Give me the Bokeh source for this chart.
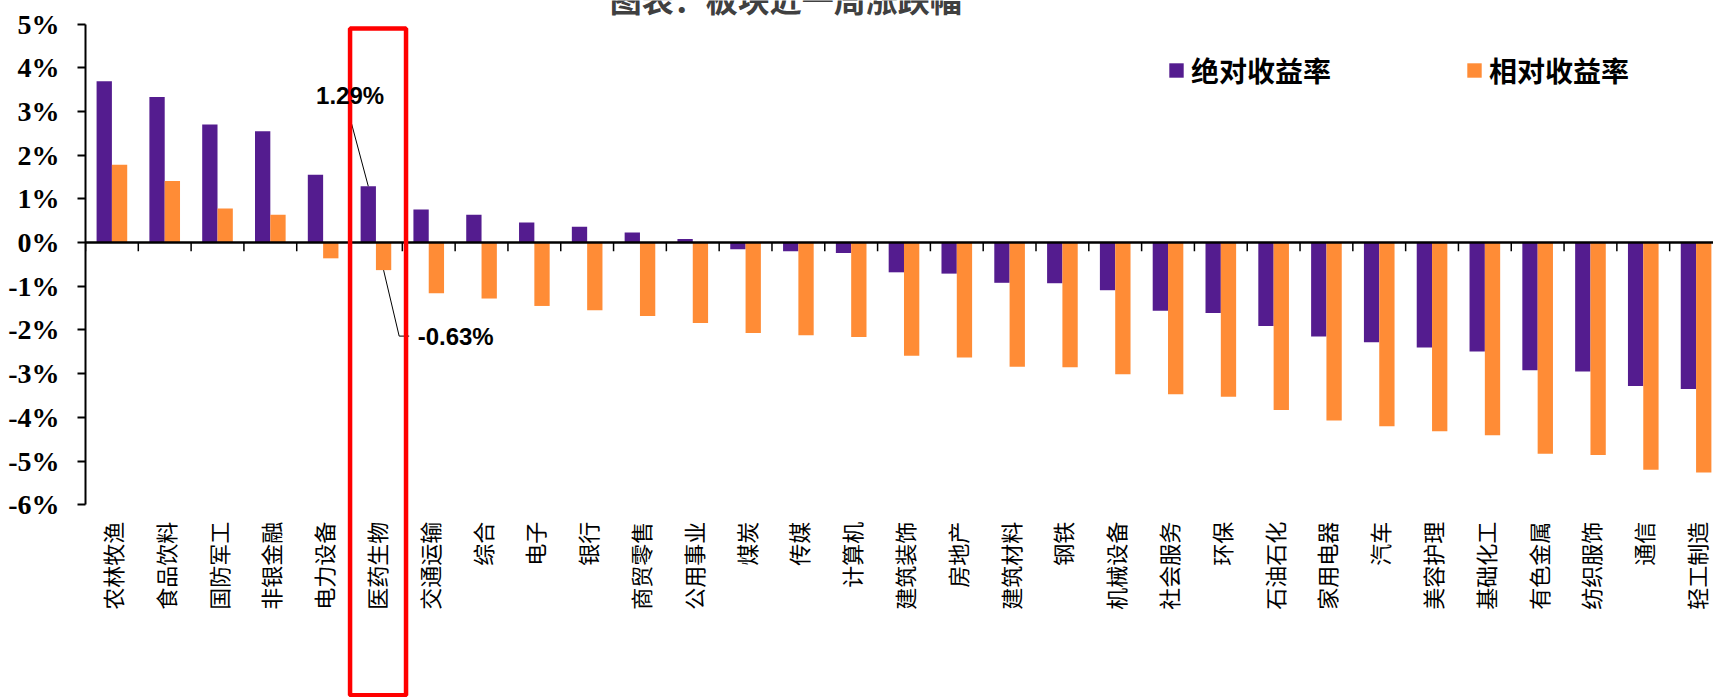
from bokeh.plotting import figure
from bokeh.models import (Range1d, LinearAxis, FixedTicker, PrintfTickFormatter,
                          Span, BoxAnnotation, Label, Legend, LegendItem)
from bokeh.core.properties import value
from bokeh.embed import file_html
from bokeh.resources import INLINE
from math import pi

categories = ["农林牧渔", "食品饮料", "国防军工", "非银金融", "电力设备", "医药生物",
              "交通运输", "综合", "电子", "银行", "商贸零售", "公用事业", "煤炭", "传媒",
              "计算机", "建筑装饰", "房地产", "建筑材料", "钢铁", "机械设备", "社会服务",
              "环保", "石油石化", "家用电器", "汽车", "美容护理", "基础化工", "有色金属",
              "纺织服饰", "通信", "轻工制造"]
abs_ret = [3.69, 3.33, 2.70, 2.55, 1.55, 1.29, 0.76, 0.64, 0.46, 0.36, 0.23, 0.08,
           -0.15, -0.20, -0.24, -0.68, -0.71, -0.92, -0.93, -1.09, -1.56, -1.61,
           -1.91, -2.15, -2.28, -2.40, -2.49, -2.92, -2.95, -3.28, -3.35]
rel_ret = [1.78, 1.41, 0.78, 0.64, -0.36, -0.63, -1.16, -1.28, -1.45, -1.55, -1.68,
           -1.84, -2.07, -2.12, -2.16, -2.59, -2.63, -2.84, -2.85, -3.01, -3.47,
           -3.53, -3.83, -4.07, -4.20, -4.32, -4.41, -4.83, -4.86, -5.20, -5.26]
y_ticks = list(range(-6, 6))
series_names = ["绝对收益率", "相对收益率"]
title_text = "图表：板块近一周涨跌幅"
highlight = "医药生物"

PURPLE = "#541c8f"
ORANGE = "#ff8c36"

n = len(categories)
y_lo, y_hi = y_ticks[0], y_ticks[-1]
# frame covers the full canvas height; axis drawn only within [y_lo, y_hi]
p = figure(width=1713, height=697, x_range=Range1d(0, 30.83), y_range=Range1d(-10.41, 5.54),
           output_backend="svg", toolbar_location=None,
           x_axis_type=None, y_axis_type=None,
           min_border_left=85, min_border_right=0, min_border_top=0, min_border_bottom=0,
           outline_line_color=None, background_fill_color="white")

x_abs = [i + 0.355 for i in range(n)]
x_rel = [i + 0.645 for i in range(n)]
r1 = p.vbar(x=x_abs, top=abs_ret, bottom=0, width=0.29, fill_color=PURPLE, line_color=None)
r2 = p.vbar(x=x_rel, top=rel_ret, bottom=0, width=0.29, fill_color=ORANGE, line_color=None)

# zero line and category boundary ticks
p.add_layout(Span(location=0, dimension="width", line_color="black", line_width=2.5))
p.segment(x0=list(range(n)), y0=[0] * n, x1=list(range(n)), y1=[-0.2] * n,
          line_color="black", line_width=1.5)

# y axis
yax = LinearAxis(ticker=FixedTicker(ticks=y_ticks), formatter=PrintfTickFormatter(format="%d%%"),
                 bounds=(y_lo, y_hi))
yax.axis_line_color = "black"
yax.axis_line_width = 2
yax.major_tick_line_color = "black"
yax.major_tick_line_width = 2
yax.major_tick_out = 8
yax.major_tick_in = 0
yax.minor_tick_line_color = None
yax.major_label_standoff = 18
yax.major_label_text_font = "Liberation Serif"
yax.major_label_text_font_style = "bold"
yax.major_label_text_font_size = "28px"
yax.major_label_text_color = "black"
p.add_layout(yax, "left")

# category labels (placed below the value axis bottom, reading bottom-to-top)
p.text(x=[i + 0.5 for i in range(n)], y=[y_lo - 0.39] * n, text=categories, angle=pi / 2,
       text_align="right", text_baseline="middle", text_font=value("Noto Sans CJK SC"),
       text_font_size="22px", text_color="black")

# highlight box and annotations
hi = categories.index(highlight)
p.add_layout(BoxAnnotation(left=hi + 0.01, right=hi + 1.07, top=4.9, bottom=-10.36,
                           fill_alpha=0, line_color="#ff0000", line_alpha=1.0, line_width=4.5))
p.line([hi + 0.01, hi + 0.355], [2.85, abs_ret[hi]], line_color="black", line_width=1)
p.line([hi + 0.645, hi + 0.94, hi + 1.13], [rel_ret[hi], -2.14, -2.14], line_color="black", line_width=1)
p.add_layout(Label(x=hi + 0.01, y=3.36, text=f"{abs_ret[hi]:.2f}%", text_align="center",
                   text_baseline="middle", text_font="Liberation Sans", text_font_style="bold",
                   text_font_size="24px", text_color="black"))
p.add_layout(Label(x=hi + 1.29, y=-2.15, text=f"{rel_ret[hi]:.2f}%", text_align="left",
                   text_baseline="middle", text_font="Liberation Sans", text_font_style="bold",
                   text_font_size="24px", text_color="black"))

# title (partially cut at the top edge, as in the reference)
p.add_layout(Label(x=13.26, y=5.59, text=title_text, text_align="center", text_baseline="alphabetic",
                   text_font="Noto Sans CJK SC", text_font_style="bold", text_font_size="32px",
                   text_color="#404040"))

legend = Legend(items=[LegendItem(label=series_names[0], renderers=[r1]),
                       LegendItem(label=series_names[1], renderers=[r2])],
                orientation="horizontal", location=(1082, 607),
                glyph_width=18, glyph_height=18, label_standoff=6, spacing=134,
                padding=0, margin=0, border_line_color=None, background_fill_alpha=0,
                label_text_font="Noto Sans CJK SC", label_text_font_style="bold",
                label_text_font_size="28px", label_text_color="black")
p.add_layout(legend, "center")

open("out.html", "w").write(file_html(p, INLINE))
